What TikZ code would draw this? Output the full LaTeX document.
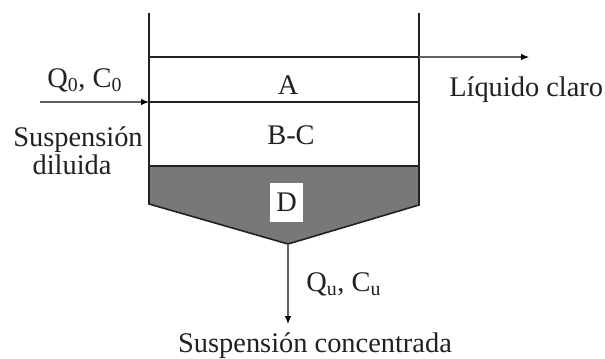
\documentclass[tikz,border=0pt]{standalone}
\usepackage{fontspec}
\setmainfont{Liberation Serif}
\usetikzlibrary{arrows.meta}
\definecolor{sludge}{gray}{0.47}
\definecolor{ink}{gray}{0.13}
\tikzset{
  x=0.75pt,y=-0.75pt,
  wall/.style={draw=ink,line width=1.2pt},
  level/.style={draw=ink,line width=1.1pt},
  flow/.style={draw=gray!75!black,line width=0.9pt,-{Latex[length=6pt,width=5pt,color=black]}},
  lbl/.style={inner sep=0pt,text=ink,font=\fontsize{21.3}{25}\selectfont},
  dbox/.style={fill=white,minimum width=24.75pt,minimum height=29.25pt,inner sep=0pt,text=ink,font=\fontsize{21.3}{25}\selectfont},
}
\begin{document}
\begin{tikzpicture}
\useasboundingbox (0,0) rectangle (605,358);
\fill[white] (0,0) rectangle (605,358);
\fill[sludge] (149,166) -- (419,166) -- (419,205) -- (288,244) -- (149,204) -- cycle;
\coordinate (tl) at (149,13);
\coordinate (tr) at (419,13);
\coordinate (bl) at (149,204);
\coordinate (br) at (419,205);
\coordinate (apex) at (288,244);
\coordinate (la) at (149,57);
\coordinate (ra) at (419,57);
\coordinate (lb) at (149,102);
\coordinate (rb) at (419,102);
\coordinate (lc) at (149,166);
\coordinate (rc) at (419,166);
\coordinate (outA) at (529,57);
\coordinate (inA) at (40,102);
\coordinate (outB) at (288,324);
\draw[wall,line join=miter] (tl) -- (bl) -- (apex) -- (br) -- (tr);
\draw[level] (la) -- (ra);
\draw[level] (lb) -- (rb);
\draw[level] (lc) -- (rc);
\draw[flow] (ra) -- (outA);
\draw[flow] (inA) -- (lb);
\draw[flow] (apex) -- (outB);
\node[lbl] (A) at (288,85) {A};
\node[lbl] (BC) at (291,135) {B-C};
\node[dbox] (D) at (286.5,202.5) {\raisebox{-2.5pt}{D}};
\node[lbl,anchor=base west] (q0) at (47,87) {Q\textsubscript{0}, C\textsubscript{0}};
\node[lbl,anchor=base] (sd) at (78,146) {Suspensión};
\node[lbl,anchor=base] (di) at (72,174) {diluida};
\node[lbl,anchor=base west] (lc2) at (449,96) {Líquido claro};
\node[lbl,anchor=base west] (qu) at (306,291) {Q\textsubscript{u}, C\textsubscript{u}};
\node[lbl,anchor=base] (sc) at (315,352) {Suspensión concentrada};
\end{tikzpicture}
\end{document}
